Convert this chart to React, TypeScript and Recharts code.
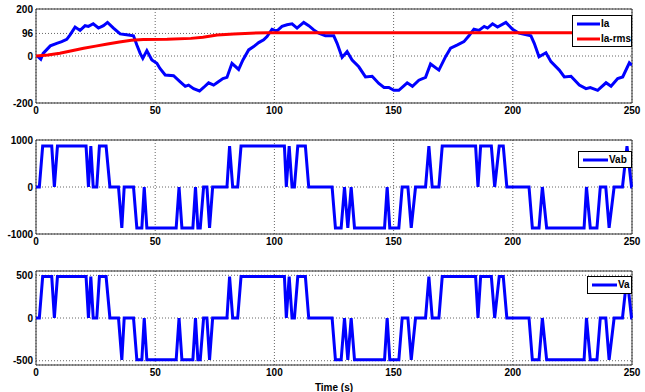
import { CartesianGrid, Legend, Line, LineChart, ReferenceArea, XAxis, YAxis } from 'recharts';

const timeTicks = [0, 50, 100, 150, 200, 250];
const iaTicks = [-200, 0, 96, 200];
const vabTicks = [-1000, 0, 1000];
const vaTicks = [-500, 0, 500];

// phase current
const iaTime = [
  0.5, 2, 3, 6, 8.7, 10.8, 12.9, 14.3, 16.4, 18.5, 20.6, 22, 24, 26.2, 28.3, 30, 32.5, 35.3, 38, 40.9,
  42.3, 43.7, 44.8, 46.5, 48.6, 50.7, 52, 54.2, 57.7, 60.5, 62.6, 64, 66.1, 68.6, 70.3, 72.4, 74.5, 75.9, 78.4, 80.1,
  82.2, 85, 86.8, 89.2, 91.3, 93.4, 95.5, 96.9, 99, 101, 103.2, 105.3, 107.4, 109.5, 112.3, 114.4, 116.5, 118.6, 121.4, 124.9,
  126.3, 128.4, 130.5, 132.6, 135.4, 138.2, 141, 143.8, 146, 148, 150.1, 152.2, 155.7, 157.9, 160.6, 163.4, 165.5, 169, 171.8, 173.9,
  176.8, 179.5, 181.6, 183.7, 185.8, 188, 189.4, 191.5, 193.6, 197.1, 199.9, 202.6, 207.6, 209, 211, 213.9, 216, 219.5, 221.6, 224.4,
  227.9, 230.7, 232.5, 235.6, 239.1, 241.2, 244, 246.1, 248.9, 250,
];
const iaValues = [
  0, -14, 11, 43, 54, 61, 71, 90, 123, 109, 129, 126, 137, 119, 129, 143, 119, 94, 90, 86,
  47, 11, -10, 23, -17, -31, -53, -81, -84, -110, -129, -124, -139, -149, -134, -114, -124, -114, -96, -91,
  -31, -57, -17, 26, 40, 57, 69, 83, 114, 106, 126, 133, 137, 119, 143, 129, 111, 97, 86, 86,
  54, -6, 19, -17, -46, -89, -86, -117, -134, -134, -146, -146, -114, -129, -103, -91, -34, -60, -3, 33,
  47, 61, 86, 114, 109, 126, 119, 137, 123, 143, 114, 97, 86, 54, -3, 14, -24, -60, -89, -86,
  -124, -139, -134, -146, -114, -129, -96, -89, -29, -39,
];

const rmsTime = [0, 5, 10, 15, 20, 25, 30, 35, 40, 45, 55, 65, 70, 76, 83, 90, 97, 250];
const rmsValues = [0, 4, 12, 22, 33, 42, 51, 60, 67, 70, 71, 75, 80, 89, 94, 97, 99, 99];

// switching instants shared by both voltage panels
const switchTime = [
  0, 1.4, 2.8, 6.6, 7.7, 9, 21, 22, 23, 24,
  25.5, 26.6, 29.4, 31, 34.6, 36, 37, 40.9, 42.3, 44.4,
  45.4, 46.5, 58.8, 60, 61.2, 65.8, 66.9, 67.9, 68.9, 70.3,
  71.7, 72.8, 74.1, 80.1, 81.2, 82.5, 84.6, 86, 104.2, 105,
  106.2, 107.4, 108.4, 109.8, 113, 114.4, 124.2, 125.6, 128, 129.4,
  130.8, 132.2, 133.6, 146.2, 147.3, 148.4, 152.2, 153.6, 156, 157.4,
  159.2, 163.4, 164.8, 166.2, 169, 170.4, 184.4, 185.4, 186.5, 191,
  192.4, 194.3, 196, 197.5, 206.8, 208.2, 211, 212.4, 214.2, 229.9,
  230.9, 232.5, 235.3, 236.7, 239, 240.4, 242.5, 246, 247.9, 249.8,
  250,
];
const vabValues = [
  0, 0, 870, 870, 0, 870, 870, 0, 870, 0,
  0, 870, 870, 0, 0, -870, 0, 0, -870, -870,
  0, -870, -870, 0, -870, -870, 0, -870, -870, 0,
  0, -870, 0, 0, 870, 0, 0, 870, 870, 0,
  870, 0, 0, 870, 870, 0, 0, -870, -870, 0,
  -870, 0, -870, -870, 0, -870, -870, 0, 0, -870,
  0, 0, 870, 0, 0, 870, 870, 0, 870, 870,
  0, 870, 870, 0, 0, -870, -870, 0, -870, -870,
  0, -870, -870, 0, 0, -870, 0, 0, 870, 0,
  0,
];
const vaValues = [
  0, 0, 485, 485, 0, 485, 485, 0, 485, 0,
  0, 485, 485, 0, 0, -490, 0, 0, -490, -490,
  0, -490, -490, 0, -490, -490, 0, -490, -490, 0,
  0, -490, 0, 0, 485, 0, 0, 485, 485, 0,
  485, 0, 0, 485, 485, 0, 0, -490, -490, 0,
  -490, 0, -490, -490, 0, -490, -490, 0, 0, -490,
  0, 0, 485, 0, 0, 485, 485, 0, 485, 485,
  0, 485, 485, 0, 0, -490, -490, 0, -490, -490,
  0, -490, -490, 0, 0, -490, 0, 0, 485, 0,
  0,
];

const iaData = iaTime.map((t, i) => ({ t, v: iaValues[i] }));
const rmsData = rmsTime.map((t, i) => ({ t, v: rmsValues[i] }));
const vabData = switchTime.map((t, i) => ({ t, v: vabValues[i] }));
const vaData = switchTime.map((t, i) => ({ t, v: vaValues[i] }));

const font = '"Liberation Sans Narrow", "Liberation Sans", Arial, sans-serif';
const tickStyle = { fill: '#000', fontSize: 10, fontWeight: 700, fontFamily: font };
const gridColor = '#666';

const legendBox = (lineW: number) => (props: any) => (
  <div
    style={{
      boxSizing: 'border-box',
      width: '100%',
      height: '100%',
      border: '1px solid #000',
      background: '#fff',
      padding: '0 0 0 4px',
      fontFamily: font,
      fontSize: 10,
      fontWeight: 700,
      color: '#000',
      whiteSpace: 'nowrap',
      overflow: 'hidden',
    }}
  >
    {(props.payload || []).map((p: any) => (
      <div key={p.value} style={{ display: 'flex', alignItems: 'center', height: 15 }}>
        <svg width={lineW} height={4} style={{ marginRight: 1, flex: 'none' }}>
          <line x1={0} y1={2} x2={lineW} y2={2} stroke={p.color} strokeWidth={3} />
        </svg>
        <span>{p.value}</span>
      </div>
    ))}
  </div>
);

export default function App() {
  return (
    <div style={{ position: 'absolute', left: 0, top: 0, width: 645, height: 392, background: '#fff' }}>
      <div style={{ position: 'absolute', left: 0, top: 0 }}>
        <LineChart width={645} height={122} margin={{ top: 9, right: 13, bottom: 0, left: 6 }}>
          <CartesianGrid stroke={gridColor} strokeDasharray="1 2" />
          <XAxis
            type="number"
            dataKey="t"
            domain={[0, 250]}
            ticks={timeTicks}
            height={19}
            axisLine={false}
            tickLine={false}
            tickSize={0}
            tickMargin={4}
            tick={tickStyle}
            allowDataOverflow
          />
          <YAxis
            type="number"
            domain={[-200, 200]}
            ticks={iaTicks}
            width={30}
            axisLine={false}
            tickLine={false}
            tickSize={0}
            tickMargin={3}
            tick={tickStyle}
            interval={0}
          />
          <ReferenceArea x1={0} x2={250} y1={-200} y2={200} fill="none" stroke="#333" strokeWidth={1} />
          <Line data={iaData} dataKey="v" name="Ia" stroke="#0000ff" strokeWidth={3} dot={false} isAnimationActive={false} />
          <Line data={rmsData} dataKey="v" name="Ia-rms" stroke="#ff0000" strokeWidth={3} dot={false} isAnimationActive={false} />
          <Legend
            layout="vertical"
            align="center"
            verticalAlign="middle"
            content={legendBox(23)}
            wrapperStyle={{ left: 572, top: 15, width: 60, height: 32 }}
          />
        </LineChart>
      </div>

      <div style={{ position: 'absolute', left: 0, top: 130 }}>
        <LineChart width={645} height={122} margin={{ top: 10, right: 13, bottom: 0, left: 6 }}>
          <CartesianGrid stroke={gridColor} strokeDasharray="1 2" />
          <XAxis
            type="number"
            dataKey="t"
            domain={[0, 250]}
            ticks={timeTicks}
            height={18}
            axisLine={false}
            tickLine={false}
            tickSize={0}
            tickMargin={4}
            tick={tickStyle}
          />
          <YAxis
            type="number"
            domain={[-1000, 1000]}
            ticks={vabTicks}
            width={30}
            axisLine={false}
            tickLine={false}
            tickSize={0}
            tickMargin={3}
            tick={tickStyle}
            interval={0}
          />
          <ReferenceArea x1={0} x2={250} y1={-1000} y2={1000} fill="none" stroke="#333" strokeWidth={1} />
          <Line data={vabData} dataKey="v" name="Vab" stroke="#0000ff" strokeWidth={3} dot={false} isAnimationActive={false} />
          <Legend
            layout="vertical"
            align="center"
            verticalAlign="middle"
            content={legendBox(25)}
            wrapperStyle={{ left: 578, top: 21, width: 54, height: 17 }}
          />
        </LineChart>
      </div>

      <div style={{ position: 'absolute', left: 0, top: 261 }}>
        <LineChart width={645} height={131} margin={{ top: 10, right: 13, bottom: 0, left: 6 }}>
          <CartesianGrid stroke={gridColor} strokeDasharray="1 2" />
          <XAxis
            type="number"
            dataKey="t"
            domain={[0, 250]}
            ticks={timeTicks}
            height={27}
            axisLine={false}
            tickLine={false}
            tickSize={0}
            tickMargin={4}
            tick={tickStyle}
            label={{
              value: 'Time (s)',
              position: 'insideBottom',
              offset: 1,
              style: { fill: '#000', fontSize: 10, fontWeight: 700, fontFamily: font },
            }}
          />
          <YAxis
            type="number"
            domain={[-550, 550]}
            ticks={vaTicks}
            width={30}
            axisLine={false}
            tickLine={false}
            tickSize={0}
            tickMargin={3}
            tick={tickStyle}
            interval={0}
          />
          <ReferenceArea x1={0} x2={250} y1={-550} y2={550} fill="none" stroke="#333" strokeWidth={1} />
          <Line data={vaData} dataKey="v" name="Va" stroke="#0000ff" strokeWidth={3} dot={false} isAnimationActive={false} />
          <Legend
            layout="vertical"
            align="center"
            verticalAlign="middle"
            content={legendBox(25)}
            wrapperStyle={{ left: 587, top: 15, width: 45, height: 18 }}
          />
        </LineChart>
      </div>
    </div>
  );
}
